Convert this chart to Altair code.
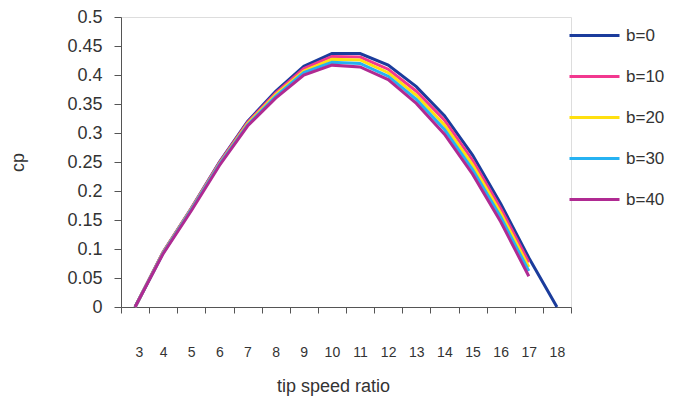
import altair as alt
import pandas as pd

tsr = [3, 4, 5, 6, 7, 8, 9, 10, 11, 12, 13, 14, 15, 16, 17, 18]
series = ["b=0", "b=10", "b=20", "b=30", "b=40"]
colors = ["#1b3c9c", "#f2388f", "#ffe010", "#26b2f2", "#b02a92"]

cp_b0 = [0, 0.095, 0.170, 0.250, 0.320, 0.372, 0.415, 0.437, 0.437, 0.417, 0.380, 0.330, 0.262, 0.178, 0.085, 0]
cp_b10 = [0, 0.095, 0.170, 0.249, 0.318, 0.369, 0.411, 0.432, 0.431, 0.410, 0.372, 0.322, 0.253, 0.170, 0.077]
cp_b20 = [0, 0.094, 0.169, 0.247, 0.316, 0.366, 0.407, 0.427, 0.426, 0.404, 0.365, 0.314, 0.245, 0.162, 0.069]
cp_b30 = [0, 0.093, 0.168, 0.246, 0.314, 0.363, 0.404, 0.422, 0.420, 0.398, 0.358, 0.306, 0.237, 0.155, 0.062]
cp_b40 = [0, 0.092, 0.166, 0.244, 0.312, 0.360, 0.400, 0.417, 0.414, 0.392, 0.351, 0.298, 0.229, 0.147, 0.053]

y_ticks = [0, 0.05, 0.1, 0.15, 0.2, 0.25, 0.3, 0.35, 0.4, 0.45, 0.5]

rows = []
for name, vals in zip(series, [cp_b0, cp_b10, cp_b20, cp_b30, cp_b40]):
    for i, v in enumerate(vals):
        rows.append({"tsr": tsr[i], "cp": v, "b": name})
df = pd.DataFrame(rows)

x_tick_vals = [t - 0.5 for t in tsr] + [tsr[-1] + 0.5]

FONT = "Liberation Sans"

chart = alt.Chart(df).mark_line(strokeWidth=3).encode(
    x=alt.X(
        "tsr:Q",
        scale=alt.Scale(domain=[tsr[0] - 0.5, tsr[-1] + 0.5], nice=False, zero=False),
        axis=alt.Axis(
            values=x_tick_vals,
            labelExpr="datum.value < 18 ? format(datum.value + 0.5, 'd') : ''",
            labelOffset=14,
            labelPadding=32,
            labelFontSize=14,
            labelColor="#333333",
            labelFont=FONT,
            tickSize=6,
            tickColor="#555555",
            domainColor="#555555",
            grid=False,
            title="tip speed ratio",
            titleFont=FONT,
            titleFontSize=18,
            titleFontWeight="normal",
            titleColor="#333333",
            titleX=212,
            titleY=79,
            titleBaseline="middle",
            titleAlign="center",
        ),
    ),
    y=alt.Y(
        "cp:Q",
        scale=alt.Scale(domain=[0, 0.5], nice=False),
        axis=alt.Axis(
            values=y_ticks,
            labelExpr="format(datum.value, '')",
            labelFontSize=18,
            labelColor="#333333",
            labelFont=FONT,
            labelPadding=12,
            tickSize=7,
            tickColor="#555555",
            domainColor="#555555",
            grid=False,
            title="cp",
            titleFont=FONT,
            titleFontSize=18,
            titleFontWeight="normal",
            titleColor="#333333",
            titleX=-103,
            titleY=145,
            titleAlign="center",
            titleBaseline="middle",
        ),
    ),
    color=alt.Color(
        "b:N",
        scale=alt.Scale(domain=series, range=colors),
        legend=alt.Legend(
            title=None,
            orient="none",
            legendX=447,
            legendY=10,
            symbolType="stroke",
            symbolSize=2500,
            symbolStrokeWidth=3,
            clipHeight=17,
            labelFontSize=17,
            labelFont=FONT,
            labelColor="#333333",
            labelOffset=5,
            rowPadding=23,
        ),
    ),
    order=alt.Order("b:N", sort="descending"),
).properties(
    width=450,
    height=290,
    autosize=alt.AutoSizeParams(type="none"),
    padding={"left": 121, "top": 17, "right": 106, "bottom": 95},
).configure_view(stroke=None).configure(background="white")

chart.save("out.html", embed_options={"renderer": "svg", "actions": False})
